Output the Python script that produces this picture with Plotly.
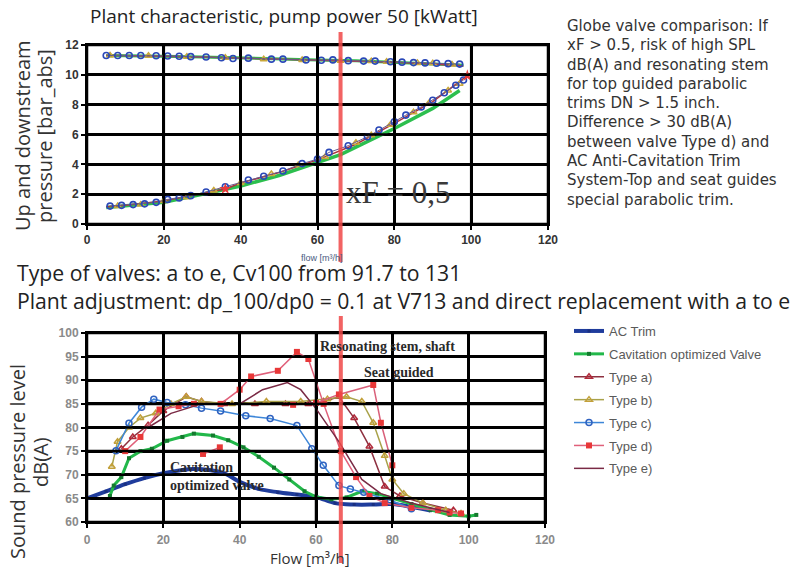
import plotly.graph_objects as go

W, H = 792, 567


def px(x):
    return x / W


def py(y):
    return 1 - y / H


# ---------------- top chart: up- and downstream pressure ----------------
up_flow = [5, 8, 11, 14, 18, 21, 24, 27, 31, 35, 38, 42, 48, 51, 57, 61, 64, 68, 72, 75, 79, 82, 85, 88, 91, 94, 97]
up_circ = [11.3, 11.3, 11.3, 11.3, 11.28, 11.26, 11.25, 11.22, 11.2, 11.15, 11.1, 11.12, 11.05, 11.05, 11.0, 10.98,
           11.0, 10.95, 10.92, 10.92, 10.88, 10.85, 10.82, 10.8, 10.78, 10.75, 10.72]
up_tri_flow = [6, 16, 26, 36, 46, 56, 66, 74, 78, 86, 90, 95]
up_tri = [11.3, 11.28, 11.22, 11.15, 11.05, 11.0, 10.95, 10.92, 10.88, 10.8, 10.78, 10.7]
up_line_flow = [5, 10, 20, 30, 40, 50, 60, 70, 80, 90, 98]
up_green = [11.3, 11.3, 11.25, 11.2, 11.12, 11.05, 11.0, 10.95, 10.85, 10.75, 10.65]
up_red = [11.32, 11.3, 11.26, 11.2, 11.12, 11.05, 10.98, 10.93, 10.85, 10.72, 10.6]

dn_flow = [6, 9, 12, 15, 18, 21, 24, 27, 31, 36, 42, 46, 51, 56, 60, 63, 68, 73, 76, 80, 83, 87, 90, 93, 96, 98]
dn_circ = [1.2, 1.25, 1.3, 1.35, 1.45, 1.65, 1.75, 1.9, 2.15, 2.5, 2.95, 3.2, 3.55, 4.05, 4.35, 4.8, 5.25, 5.85,
           6.3, 6.85, 7.3, 7.85, 8.3, 8.8, 9.3, 9.65]
dn_tri_flow = [8, 14, 20, 26, 33, 40, 48, 55, 62, 70, 74, 79, 85, 89, 94, 97]
dn_tri = [1.2, 1.3, 1.55, 1.8, 2.25, 2.75, 3.35, 3.95, 4.5, 5.45, 5.95, 6.65, 7.5, 8.1, 8.95, 9.4]
dn_line_flow = [5, 10, 20, 30, 40, 50, 60, 66, 70, 80, 90, 97]
dn_green = [1.1, 1.2, 1.45, 2.0, 2.55, 3.25, 4.1, 4.65, 5.15, 6.4, 7.75, 8.95]
dn_red_flow = [5, 10, 20, 30, 36, 40, 50, 60, 70, 80, 90, 99]
dn_red = [1.15, 1.25, 1.55, 2.05, 2.35, 2.75, 3.45, 4.3, 5.35, 6.75, 8.2, 9.95]

# ---------------- bottom chart: sound pressure level ----------------
ac_flow = [0, 5, 10, 15, 20, 25, 28, 32, 36, 40, 45, 50, 55, 60, 65, 70, 75, 80, 85, 90]
ac_spl = [65, 66.5, 68, 69.3, 70.3, 71, 71.2, 71, 70.3, 68.5, 67, 66.3, 65.8, 65.3, 64, 63.7, 63.7, 63.8, 63.2, 62.4]

cav_flow = [6, 7, 9, 11, 14, 17, 21, 25, 28, 33, 37, 41, 45, 49, 53, 57, 60, 64, 68, 72, 76, 80, 85, 90, 95, 100, 102]
cav_spl = [65.5, 67.7, 69.5, 73.5, 75, 75.5, 77.2, 78, 78.7, 78.3, 77.3, 75.8, 73.8, 71.5, 69, 66.5, 65.3, 64.8,
           65.2, 66.5, 66, 65, 63.8, 62.6, 61.5, 61.2, 61.5]

a_flow = [9, 12, 16, 20, 26, 30, 36, 44, 52, 58, 62, 66, 70, 74, 78, 82, 88, 96]
a_spl = [75.5, 78, 80.5, 83.5, 86.5, 85.5, 85, 85, 85, 85, 85.5, 86.5, 82, 76, 67.5, 65.5, 64, 62.5]

b_flow = [6.5, 8, 11, 14, 18, 22, 26, 30, 38, 47, 56, 63, 68, 72, 75, 78, 80, 83, 88, 94, 98]
b_spl = [71.7, 77, 80, 82, 83, 85, 86.5, 85.5, 85, 85.5, 85.5, 86, 86.5, 85.5, 81, 74, 69, 66, 64, 62.5, 61.8]

c_flow = [7.6, 11, 14.3, 17.5, 21, 25.8, 30, 35, 41.6, 48, 55, 58.9, 61.9, 66, 69, 72.5, 79.5, 85]
c_spl = [75.1, 80.9, 84.3, 86, 85.3, 84.8, 84.1, 83.5, 82.5, 81.9, 80.4, 75.5, 72, 67.7, 67, 66.3, 64.6, 62.8]

d_flow = [10, 14, 19, 24, 28, 35, 40, 43, 50, 55, 58, 62, 66.5, 70.5, 74, 78, 85, 92, 95, 98]
d_spl = [75, 78, 83.8, 84.5, 85, 85, 88, 90.8, 92, 96, 94.5, 85, 75, 69.5, 65.5, 64, 63, 62.5, 62, 61.8]
d2_flow = [54, 60, 66, 75, 77, 80]
d2_spl = [84.8, 85.2, 87, 89, 81, 72]
d3_flow = [30.4, 34.8]
d3_spl = [74.4, 75.8]

e_flow = [16, 22, 30, 40, 46, 52.5, 56, 60, 66, 72, 77, 85, 95]
e_spl = [80, 83, 85, 85, 88, 89.5, 88, 84, 77, 69, 66, 64, 62]

xf_flow = 66  # flow where xF reaches 0.5

flow_ticks = [0, 20, 40, 60, 80, 100, 120]
pressure_ticks = [0, 2, 4, 6, 8, 10, 12]
spl_ticks = [60, 65, 70, 75, 80, 85, 90, 95, 100]

# plot areas (paper fractions)
top_x_dom = [px(87), px(548)]
top_y_dom = [py(224), py(45)]
bot_x_dom = [px(87), px(545)]
bot_y_dom = [py(522), py(333)]

text_font = "Open Sans"
grid_col = "#000000"

fig = go.Figure()

# top chart traces
fig.add_trace(go.Scatter(x=up_line_flow, y=up_green, mode="lines", line=dict(color="#2cbf4e", width=3),
                         showlegend=False, xaxis="x", yaxis="y"))
fig.add_trace(go.Scatter(x=up_line_flow, y=up_red, mode="lines", line=dict(color="#b23a48", width=1.5),
                         showlegend=False, xaxis="x", yaxis="y"))
fig.add_trace(go.Scatter(x=up_tri_flow, y=up_tri, mode="markers",
                         marker=dict(symbol="triangle-up-open", size=6, color="#c9a83a", line=dict(width=1.5)),
                         showlegend=False, xaxis="x", yaxis="y"))
fig.add_trace(go.Scatter(x=up_flow, y=up_circ, mode="lines+markers", line=dict(color="#6a5a8a", width=1),
                         marker=dict(symbol="circle-open", size=6, color="#2a48b8", line=dict(width=1.6)),
                         showlegend=False, xaxis="x", yaxis="y"))
fig.add_trace(go.Scatter(x=dn_line_flow, y=dn_green, mode="lines", line=dict(color="#2cbf4e", width=3.5),
                         showlegend=False, xaxis="x", yaxis="y"))
fig.add_trace(go.Scatter(x=dn_red_flow, y=dn_red, mode="lines", line=dict(color="#a8343c", width=1.5),
                         showlegend=False, xaxis="x", yaxis="y"))
fig.add_trace(go.Scatter(x=dn_tri_flow, y=dn_tri, mode="markers",
                         marker=dict(symbol="triangle-up-open", size=6, color="#c9a83a", line=dict(width=1.5)),
                         showlegend=False, xaxis="x", yaxis="y"))
fig.add_trace(go.Scatter(x=dn_flow, y=dn_circ, mode="lines+markers", line=dict(color="#6a5a8a", width=1),
                         marker=dict(symbol="circle-open", size=6, color="#2a48b8", line=dict(width=1.6)),
                         showlegend=False, xaxis="x", yaxis="y"))
fig.add_trace(go.Scatter(x=[dn_red_flow[4], dn_red_flow[-1]], y=[dn_red[4], dn_red[-1]], mode="markers",
                         marker=dict(symbol="star", size=9, color="#e83a3a"),
                         showlegend=False, xaxis="x", yaxis="y"))

# bottom chart traces
fig.add_trace(go.Scatter(x=ac_flow, y=ac_spl, name="AC Trim", legendgroup="ac", mode="lines+markers",
                         line=dict(color="#1f3c9c", width=4, shape="spline"),
                         marker=dict(symbol="square", size=3, color="#1a2f80"), xaxis="x2", yaxis="y2"))
fig.add_trace(go.Scatter(x=cav_flow, y=cav_spl, name="Cavitation optimized Valve", legendgroup="cav",
                         mode="lines+markers", line=dict(color="#22b84a", width=3),
                         marker=dict(symbol="square", size=4, color="#147a2e"), xaxis="x2", yaxis="y2"))
fig.add_trace(go.Scatter(x=a_flow, y=a_spl, name="Type a)", legendgroup="a", mode="lines+markers",
                         line=dict(color="#8e3040", width=1.5),
                         marker=dict(symbol="triangle-up-open", size=6, color="#b02a3a", line=dict(width=1.5)),
                         xaxis="x2", yaxis="y2"))
fig.add_trace(go.Scatter(x=b_flow, y=b_spl, name="Type b)", legendgroup="b", mode="lines+markers",
                         line=dict(color="#a9a24a", width=1.5),
                         marker=dict(symbol="triangle-up-open", size=6, color="#c2a03a", line=dict(width=1.5)),
                         xaxis="x2", yaxis="y2"))
fig.add_trace(go.Scatter(x=c_flow, y=c_spl, name="Type c)", legendgroup="c", mode="lines+markers",
                         line=dict(color="#3d86d8", width=1.5),
                         marker=dict(symbol="circle-open", size=6, color="#2f62c0", line=dict(width=1.5)),
                         xaxis="x2", yaxis="y2"))
fig.add_trace(go.Scatter(x=d_flow, y=d_spl, name="Type d)", legendgroup="d", mode="lines+markers",
                         line=dict(color="#e0607a", width=1.5),
                         marker=dict(symbol="square", size=6, color="#e83838"), xaxis="x2", yaxis="y2"))
fig.add_trace(go.Scatter(x=d2_flow, y=d2_spl, legendgroup="d", showlegend=False, mode="lines+markers",
                         line=dict(color="#d9607a", width=1.5),
                         marker=dict(symbol="square", size=6, color="#e83838"), xaxis="x2", yaxis="y2"))
fig.add_trace(go.Scatter(x=d3_flow, y=d3_spl, legendgroup="d", showlegend=False, mode="lines+markers",
                         line=dict(color="#e0607a", width=1.5),
                         marker=dict(symbol="square", size=6, color="#e83838"), xaxis="x2", yaxis="y2"))
fig.add_trace(go.Scatter(x=e_flow, y=e_spl, name="Type e)", legendgroup="e", mode="lines",
                         line=dict(color="#7a2a45", width=1.5), xaxis="x2", yaxis="y2"))

axis_common = dict(showgrid=True, gridcolor="black", gridwidth=2.5, griddash="solid", layer="above traces",
                   showline=True, linecolor="black", linewidth=2, mirror=True, zeroline=False,
                   ticks="outside", ticklen=4, tickcolor="black", tickwidth=1.5)
top_tick_font = dict(family="Arial", size=12, color="#333333", weight="bold")
bot_tick_font = dict(family="Arial", size=12, color="#8a8a8a", weight="bold")

fig.update_layout(
    template="none",
    width=W, height=H, margin=dict(l=0, r=0, t=0, b=0),
    paper_bgcolor="white", plot_bgcolor="white",
    xaxis=dict(domain=top_x_dom, range=[0, 120], tickmode="linear", tick0=0, dtick=20, anchor="y",
               tickfont=top_tick_font, **axis_common),
    yaxis=dict(domain=top_y_dom, range=[0, 12], tickmode="linear", tick0=0, dtick=2, anchor="x",
               tickfont=top_tick_font, **axis_common),
    xaxis2=dict(domain=bot_x_dom, range=[0, 120], tickmode="linear", tick0=0, dtick=20, anchor="y2",
                tickfont=bot_tick_font, ticklabelstandoff=2, **axis_common),
    yaxis2=dict(domain=bot_y_dom, range=[60, 100], tickmode="linear", tick0=60, dtick=5, anchor="x2",
                tickfont=bot_tick_font, **axis_common),
    legend=dict(x=px(569), y=py(316), xanchor="left", yanchor="top",
                font=dict(family="Arial", size=13, color="#5a5a5a"),
                bgcolor="rgba(0,0,0,0)", itemwidth=30, tracegroupgap=3, traceorder="grouped"),
    showlegend=True,
)

# chart grid at the tick positions, drawn on top as in the printed chart
grid_line = dict(color=grid_col, width=2.5)
for t in flow_ticks:
    fig.add_shape(type="line", xref="x", yref="paper", x0=t, x1=t, y0=top_y_dom[0], y1=top_y_dom[1],
                  line=grid_line, opacity=1)
    fig.add_shape(type="line", xref="x2", yref="paper", x0=t, x1=t, y0=bot_y_dom[0], y1=bot_y_dom[1],
                  line=grid_line, opacity=1)
for t in pressure_ticks:
    fig.add_shape(type="line", xref="paper", yref="y", x0=top_x_dom[0], x1=top_x_dom[1], y0=t, y1=t,
                  line=grid_line, opacity=1)
for t in spl_ticks:
    fig.add_shape(type="line", xref="paper", yref="y2", x0=bot_x_dom[0], x1=bot_x_dom[1], y0=t, y1=t,
                  line=grid_line, opacity=1)

# xF = 0.5 markers on both charts
fig.add_shape(type="line", xref="x", yref="paper", x0=xf_flow, x1=xf_flow, y0=py(262), y1=py(32),
              line=dict(color="#f04848", width=4), opacity=0.85)
fig.add_shape(type="line", xref="x2", yref="paper", x0=xf_flow + 0.5, x1=xf_flow + 0.5, y0=py(563), y1=py(316),
              line=dict(color="#f04848", width=4), opacity=0.85)


def label(text, x, y, size, color="#333333", family=text_font, xanchor="center", angle=0, **kw):
    return dict(text=text, x=px(x), y=py(y), xref="paper", yref="paper", showarrow=False, xanchor=xanchor,
                yanchor="middle", textangle=angle, font=dict(family=family, size=size, color=color, **kw))


ann = []
ann.append(label("Plant characteristic, pump power 50 [kWatt]", 284, 16, 19, "#222222"))
ann.append(label("Up and downstream", 22, 136, 20, angle=-90))
ann.append(label("pressure [bar_abs]", 44, 136, 20, angle=-90))
ann.append(label("flow [m³/h]", 322, 258, 9, "#4a5a80", family="Arial"))
ann.append(dict(text="xF = 0,5", x=81, y=2.1, xref="x", yref="y", showarrow=False, xanchor="center",
                yanchor="middle", font=dict(family="Liberation Serif", size=31, color="#3a3a3a")))

side_lines = ["Globe valve comparison: If", "xF > 0.5, risk of high SPL", "dB(A) and resonating stem",
              "for top guided parabolic", "trims DN > 1.5 inch.", "Difference > 30 dB(A)",
              "between valve Type d) and", "AC Anti-Cavitation Trim", "System-Top and seat guides",
              "special parabolic trim."]
for i, s in enumerate(side_lines):
    ann.append(label(s, 565, 26 + 19.3 * i, 15, family="DejaVu Sans", xanchor="left"))

ann.append(label("Type of valves: a to e, Cv100 from 91.7 to 131", 15, 272, 21.2, "#222222", xanchor="left"))
ann.append(label("Plant adjustment: dp_100/dp0 = 0.1 at V713 and direct replacement with a to e", 15, 300, 21.2,
                 "#222222", xanchor="left"))

ann.append(label("Sound pressure level", 17, 462, 20, angle=-90))
ann.append(label("dB(A)", 40, 462, 20, angle=-90))
ann.append(label("Flow [m³/h]", 310, 558, 15))

serif_bold = dict(family="Liberation Serif", size=14, color="#2a2a2a", weight="bold")
ann.append(dict(text="Resonating stem, shaft", x=78.7, y=97.2, xref="x2", yref="y2", showarrow=False,
                xanchor="center", yanchor="middle", font=serif_bold))
ann.append(dict(text="Seat guided", x=81.7, y=91.7, xref="x2", yref="y2", showarrow=False,
                xanchor="center", yanchor="middle", font=serif_bold))
ann.append(dict(text="Cavitation<br>optimized valve", x=21.3, y=69.7, xref="x2", yref="y2", showarrow=False,
                xanchor="left", yanchor="middle", align="left", font=serif_bold))

fig.update_layout(annotations=ann)

fig.write_html("out.html")
